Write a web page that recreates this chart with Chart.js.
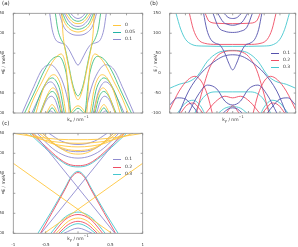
<!DOCTYPE html>
<html>
<head>
<meta charset="utf-8">
<script src="https://cdn.jsdelivr.net/npm/chart.js@4.4.1/dist/chart.umd.min.js"></script>
<style>
  body { margin: 0; background: #fff; width: 298px; height: 247px; overflow: hidden; position: relative; font-family: "DejaVu Sans", sans-serif; }
  canvas { position: absolute; }
  .t { position: absolute; font-size: 4.5px; color: #333; white-space: nowrap; line-height: 1; }
  .c { transform: translate(-50%, -50%); }
  .r { transform: translate(-50%, -50%) rotate(-90deg); }
  .lab { position: absolute; font-size: 5.5px; color: #333; line-height: 1; }
  .lg { position: absolute; height: 0; border-top: 1px solid; width: 8px; }
  sub, sup { font-size: 3.5px; }
</style>
</head>
<body>
<canvas id="pa" width="148" height="122" style="left:0;top:0"></canvas>
<canvas id="pb" width="148" height="122" style="left:150px;top:0"></canvas>
<canvas id="pc" width="148" height="125" style="left:0;top:122px"></canvas>

<div class="lab" style="left:2px;top:1px">(a)</div>
<div class="lab" style="left:150px;top:1px">(b)</div>
<div class="lab" style="left:2px;top:121px">(c)</div>

<div class="t r" style="left:4px;top:63px">E / meV</div>
<div class="t r" style="left:156px;top:63px">E / meV</div>
<div class="t r" style="left:4px;top:183px">E / meV</div>
<div class="t c" style="left:78px;top:119.5px">k<sub>x</sub> / nm<sup>−1</sup></div>
<div class="t c" style="left:233px;top:119.5px">k<sub>y</sub> / nm<sup>−1</sup></div>
<div class="t c" style="left:78px;top:239px">k<sub>y</sub> / nm<sup>−1</sup></div>

<div id="legends"></div>

<script>
// panel (a): k_x scan, three values
const aLabels = ['0', '0.05', '0.1'];
const aYellow = [
  [[-1.0,150],[-0.95,110],[-0.88,80],[-0.75,50],[-0.55,10],[-0.35,-30],[-0.15,-58],[0,-67],[0.15,-58],[0.35,-30],[0.55,10],[0.75,50],[0.88,80],[0.95,110],[1.0,150]],
  [[-0.75,150],[-0.5,135],[-0.25,126],[0,124],[0.25,126],[0.5,135],[0.75,150]],
  [[-1.05,150],[-0.8,125],[-0.5,110],[-0.25,105],[0,103],[0.25,105],[0.5,110],[0.8,125],[1.05,150]],
  [[-3.1,-100],[-2.7,-60],[-2.2,-20],[-1.7,20],[-1.3,42],[-1.05,48],[-0.85,35],[-0.7,0],[-0.55,-100]],
  [[0.55,-100],[0.7,0],[0.85,35],[1.05,48],[1.3,42],[1.7,20],[2.2,-20],[2.7,-60],[3.1,-100]],
  [[-2.6,-100],[-2.2,-45],[-1.8,-12],[-1.5,-4],[-1.25,-12],[-1.0,-40],[-0.75,-100]],
  [[0.75,-100],[1.0,-40],[1.25,-12],[1.5,-4],[1.8,-12],[2.2,-45],[2.6,-100]],
  [[-2.3,-100],[-1.9,-55],[-1.55,-37],[-1.2,-60],[-1.0,-100]],
  [[1.0,-100],[1.2,-60],[1.55,-37],[1.9,-55],[2.3,-100]],
  [[-1.95,-100],[-1.6,-79],[-1.25,-100]],
  [[1.25,-100],[1.6,-79],[1.95,-100]],
  [[-0.45,-100],[-0.25,-88],[0,-82],[0.25,-88],[0.45,-100]]
];
const aGreen = [
  [[-1.4,150],[-1.25,110],[-1.05,85],[-0.85,70],[-0.6,25],[-0.35,-25],[-0.15,-50],[0,-57],[0.15,-50],[0.35,-25],[0.6,25],[0.85,70],[1.05,85],[1.25,110],[1.4,150]],
  [[-0.6,150],[-0.4,138],[-0.2,132],[0,130],[0.2,132],[0.4,138],[0.6,150]],
  [[-0.95,150],[-0.7,127],[-0.4,115],[0,110],[0.4,115],[0.7,127],[0.95,150]],
  [[-3.3,-100],[-2.6,-40],[-2.1,5],[-1.6,35],[-1.2,42],[-0.9,25],[-0.65,-20],[-0.45,-100]],
  [[0.45,-100],[0.65,-20],[0.9,25],[1.2,42],[1.6,35],[2.1,5],[2.6,-40],[3.3,-100]],
  [[-2.75,-100],[-2.3,-50],[-1.9,-20],[-1.6,-12],[-1.35,-20],[-1.1,-45],[-0.85,-100]],
  [[0.85,-100],[1.1,-45],[1.35,-20],[1.6,-12],[1.9,-20],[2.3,-50],[2.75,-100]],
  [[-2.35,-100],[-1.9,-58],[-1.6,-46],[-1.3,-60],[-1.05,-100]],
  [[1.05,-100],[1.3,-60],[1.6,-46],[1.9,-58],[2.35,-100]],
  [[-1.85,-100],[-1.6,-87],[-1.35,-100]],
  [[1.35,-100],[1.6,-87],[1.85,-100]],
  [[-0.35,-100],[0,-88],[0.35,-100]]
];
const aPurple = [
  [[-1.75,150],[-1.6,110],[-1.4,85],[-1.1,76],[-0.8,72],[-0.5,55],[-0.25,35],[0,20],[0.25,35],[0.5,55],[0.8,72],[1.1,76],[1.4,85],[1.6,110],[1.75,150]],
  [[-0.45,150],[-0.25,141],[0,137],[0.25,141],[0.45,150]],
  [[-0.85,150],[-0.6,132],[-0.3,120],[0,117],[0.3,120],[0.6,132],[0.85,150]],
  [[-1.15,150],[-0.9,118],[-0.5,100],[0,95],[0.5,100],[0.9,118],[1.15,150]],
  [[-3.45,-100],[-2.8,-40],[-2.2,10],[-1.7,21],[-1.2,0],[-0.8,-40],[-0.45,-100]],
  [[0.45,-100],[0.8,-40],[1.2,0],[1.7,21],[2.2,10],[2.8,-40],[3.45,-100]],
  [[-2.85,-100],[-2.4,-60],[-2.0,-30],[-1.7,-22],[-1.45,-30],[-1.2,-55],[-0.95,-100]],
  [[0.95,-100],[1.2,-55],[1.45,-30],[1.7,-22],[2.0,-30],[2.4,-60],[2.85,-100]],
  [[-2.3,-100],[-1.95,-68],[-1.65,-58],[-1.4,-68],[-1.15,-100]],
  [[1.15,-100],[1.4,-68],[1.65,-58],[1.95,-68],[2.3,-100]],
  [[-1.9,-100],[-1.7,-95],[-1.5,-100]],
  [[1.5,-100],[1.7,-95],[1.9,-100]]
];

// panel (b): k_y scan
const bLabels = ['0.1', '0.2', '0.3'];
const bBlue = [
  [[-1.85,150],[-1.65,110],[-1.4,85],[-1.1,75],[-0.8,70],[-0.5,50],[-0.25,25],[0,8],[0.25,25],[0.5,50],[0.8,70],[1.1,75],[1.4,85],[1.65,110],[1.85,150]],
  [[-0.55,150],[-0.3,140],[0,137],[0.3,140],[0.55,150]],
  [[-0.95,150],[-0.6,128],[-0.3,122],[0,120],[0.3,122],[0.6,128],[0.95,150]],
  [[-1.25,150],[-0.9,115],[-0.5,105],[0,102],[0.5,105],[0.9,115],[1.25,150]],
  [[-3.4,-100],[-2.8,-45],[-2.0,0],[-1.2,28],[-0.6,42],[0,46],[0.6,42],[1.2,28],[2.0,0],[2.8,-45],[3.4,-100]],
  [[-2.8,-100],[-2.2,-55],[-1.6,-30],[-1.0,-40],[-0.5,-70],[0,-80],[0.5,-70],[1.0,-40],[1.6,-30],[2.2,-55],[2.8,-100]],
  [[-4,-80],[-3.5,-62],[-3.0,-65],[-2.5,-85],[-2.2,-100]],
  [[2.2,-100],[2.5,-85],[3.0,-65],[3.5,-62],[4,-80]],
  [[-0.6,-100],[-0.3,-90],[0,-87],[0.3,-90],[0.6,-100]]
];
const bRed = [
  [[-2.75,150],[-2.5,110],[-2.2,85],[-1.8,75],[-1.0,72],[0,72],[1.0,72],[1.8,75],[2.2,85],[2.5,110],[2.75,150]],
  [[-1.75,150],[-1.5,130],[-1.0,125],[0,124],[1.0,125],[1.5,130],[1.75,150]],
  [[-2.3,-100],[-1.9,-40],[-1.5,10],[-1.0,42],[-0.5,54],[0,56],[0.5,54],[1.0,42],[1.5,10],[1.9,-40],[2.3,-100]],
  [[-4,-92],[-3.4,-45],[-2.85,-17],[-2.4,-8],[-2.0,-20],[-1.6,-55],[-1.3,-100]],
  [[1.3,-100],[1.6,-55],[2.0,-20],[2.4,-8],[2.85,-17],[3.4,-45],[4,-92]],
  [[-1.7,-100],[-1.1,-72],[-0.5,-58],[0,-62],[0.5,-58],[1.1,-72],[1.7,-100]],
  [[-3.3,-100],[-2.9,-80],[-2.5,-75],[-2.1,-90],[-1.9,-100]],
  [[1.9,-100],[2.1,-90],[2.5,-75],[2.9,-80],[3.3,-100]],
  [[-0.4,-100],[0,-82],[0.4,-100]]
];
const bCyan = [
  [[-3.6,150],[-3.3,110],[-3.0,85],[-2.6,72],[-2.0,68],[0,67],[2.0,68],[2.6,72],[3.0,85],[3.3,110],[3.6,150]],
  [[-4,-38],[-3.4,-28],[-2.7,-20],[-2.2,-5],[-1.6,30],[-1.0,50],[-0.5,56],[0,57],[0.5,56],[1.0,50],[1.6,30],[2.2,-5],[2.7,-20],[3.4,-28],[4,-38]],
  [[-2.4,-100],[-2.0,-68],[-1.5,-50],[-1.0,-47],[0,-47],[1.0,-47],[1.5,-50],[2.0,-68],[2.4,-100]],
  [[-3.5,-100],[-3.0,-75],[-2.5,-68],[-2.0,-85],[-1.8,-100]],
  [[1.8,-100],[2.0,-85],[2.5,-68],[3.0,-75],[3.5,-100]],
  [[-0.9,-100],[-0.5,-88],[0,-84],[0.5,-88],[0.9,-100]]
];

// panel (c): narrow k_y window
const cLabels = ['0.1', '0.2', '0.3'];
const cYellow = [
  [[-1,75],[0.52,-100]],
  [[-0.52,-100],[1,75]],
  [[-1.0,150],[-0.6,140],[-0.3,135],[0,134],[0.3,135],[0.6,140],[1.0,150]],
  [[-0.85,150],[-0.55,134],[-0.25,127],[0,125],[0.25,127],[0.55,134],[0.85,150]],
  [[-0.72,150],[-0.45,127],[-0.2,118],[0,116],[0.2,118],[0.45,127],[0.72,150]],
  [[-0.6,150],[-0.4,126],[-0.2,111],[0,107],[0.2,111],[0.4,126],[0.6,150]],
  [[-0.55,150],[-0.35,122],[-0.15,102],[0,98],[0.15,102],[0.35,122],[0.55,150]],
  [[-0.34,-100],[-0.15,-70],[0,-62],[0.15,-70],[0.34,-100]]
];
const cPurple = [
  [[-0.68,150],[0.57,-100]],
  [[-0.57,-100],[0.68,150]],
  [[-0.45,150],[-0.25,130],[0,122],[0.25,130],[0.45,150]],
  [[-0.55,150],[-0.3,115],[0,104],[0.3,115],[0.55,150]],
  [[-0.63,150],[-0.4,113],[-0.2,94],[0,88],[0.2,94],[0.4,113],[0.63,150]],
  [[-0.22,-100],[0,-87],[0.22,-100]]
];
const cRed = [
  [[-0.72,150],[-0.5,117],[-0.3,88],[-0.15,73],[0,69],[0.15,73],[0.3,88],[0.5,117],[0.72,150]],
  [[-0.58,-100],[-0.4,-48],[-0.2,10],[-0.1,40],[0,52],[0.1,40],[0.2,10],[0.4,-48],[0.58,-100]],
  [[-0.38,-100],[-0.2,-66],[0,-53],[0.2,-66],[0.38,-100]],
  [[-0.3,-100],[-0.15,-78],[0,-70],[0.15,-78],[0.3,-100]]
];
const cCyan = [
  [[-0.75,150],[-0.52,115],[-0.3,85],[-0.15,70],[0,66],[0.15,70],[0.3,85],[0.52,115],[0.75,150]],
  [[-0.62,-100],[-0.42,-48],[-0.2,14],[-0.1,43],[0,55],[0.1,43],[0.2,14],[0.42,-48],[0.62,-100]],
  [[-0.42,-100],[-0.22,-62],[0,-47],[0.22,-62],[0.42,-100]],
  [[-0.27,-100],[-0.12,-82],[0,-76],[0.12,-82],[0.27,-100]]
];

const YELLOW = '#ffc63d', GREEN = '#3fbf80', LAV = '#8f8bd0';
const BLUE = '#5552ad', RED = '#ef4d63', CYAN = '#45c7cf';

// frame with inward ticks, like the original plots
const framePlugin = {
  id: 'frame',
  afterDatasetsDraw(chart) {
    const { ctx, chartArea: a, scales } = chart;
    ctx.save();
    ctx.strokeStyle = '#8c8c8c';
    ctx.lineWidth = 0.8;
    ctx.strokeRect(a.left, a.top, a.right - a.left, a.bottom - a.top);
    ctx.beginPath();
    scales.x.ticks.forEach((t, i) => {
      const px = scales.x.getPixelForTick(i);
      ctx.moveTo(px, a.bottom); ctx.lineTo(px, a.bottom - 2);
      ctx.moveTo(px, a.top); ctx.lineTo(px, a.top + 2);
    });
    scales.y.ticks.forEach((t, i) => {
      const py = scales.y.getPixelForTick(i);
      ctx.moveTo(a.left, py); ctx.lineTo(a.left + 2, py);
      ctx.moveTo(a.right, py); ctx.lineTo(a.right - 2, py);
    });
    ctx.stroke();
    ctx.restore();
  }
};

function toSets(groups) {
  const sets = [];
  groups.forEach(g => {
    g.curves.forEach(c => {
      sets.push({
        data: c.map(p => ({ x: p[0], y: p[1] })),
        borderColor: g.color,
        borderWidth: 0.9,
        pointRadius: 0,
        fill: false,
        cubicInterpolationMode: 'monotone'
      });
    });
  });
  return sets;
}

function makePanel(id, box, xr, step, groups) {
  const tickFont = { family: 'DejaVu Sans', size: 4 };
  return new Chart(document.getElementById(id), {
    type: 'line',
    data: { datasets: toSets(groups) },
    options: {
      responsive: false,
      animation: false,
      devicePixelRatio: 1,
      layout: { padding: { left: 0, top: box.top, right: box.right, bottom: 0 } },
      plugins: { legend: { display: false }, tooltip: { enabled: false } },
      scales: {
        x: {
          type: 'linear', min: xr[0], max: xr[1],
          grid: { display: false }, border: { display: false },
          ticks: { stepSize: step, font: tickFont, color: '#333', padding: 1, maxRotation: 0,
                   callback: v => String(v) },
          afterFit: s => { s.height = box.xh; }
        },
        y: {
          min: -100, max: 150,
          grid: { display: false }, border: { display: false },
          ticks: { stepSize: 50, font: tickFont, color: '#333', padding: 1 },
          afterFit: s => { s.width = box.yw; }
        }
      }
    },
    plugins: [framePlugin]
  });
}

makePanel('pa', { top: 13.3, right: 5.3, xh: 9, yw: 13.3 }, [-4, 4], 1, [
  { color: YELLOW, curves: aYellow },
  { color: GREEN, curves: aGreen },
  { color: LAV, curves: aPurple }
]);
makePanel('pb', { top: 13.3, right: 2.3, xh: 9, yw: 19.7 }, [-4, 4], 1, [
  { color: BLUE, curves: bBlue },
  { color: RED, curves: bRed },
  { color: CYAN, curves: bCyan }
]);
makePanel('pc', { top: 11.3, right: 5.3, xh: 13.7, yw: 13.3 }, [-1, 1], 0.5, [
  { color: YELLOW, curves: cYellow },
  { color: LAV, curves: cPurple },
  { color: RED, curves: cRed },
  { color: CYAN, curves: cCyan }
]);

// legends drawn as html, one row per value
function legend(x, ys, labels, colors) {
  const box = document.getElementById('legends');
  labels.forEach((lab, i) => {
    const line = document.createElement('div');
    line.className = 'lg';
    line.style.left = x + 'px';
    line.style.top = ys[i] + 'px';
    line.style.borderColor = colors[i];
    box.appendChild(line);
    const txt = document.createElement('div');
    txt.className = 't';
    txt.style.left = (x + 12) + 'px';
    txt.style.top = (ys[i] - 2) + 'px';
    txt.textContent = lab;
    box.appendChild(txt);
  });
}
legend(113, [25, 32, 39], aLabels, [YELLOW, '#22b3a6', LAV]);
legend(271, [53, 60, 67], bLabels, [BLUE, RED, CYAN]);
legend(113, [159, 166.5, 174], cLabels, [LAV, RED, CYAN]);
</script>
</body>
</html>
